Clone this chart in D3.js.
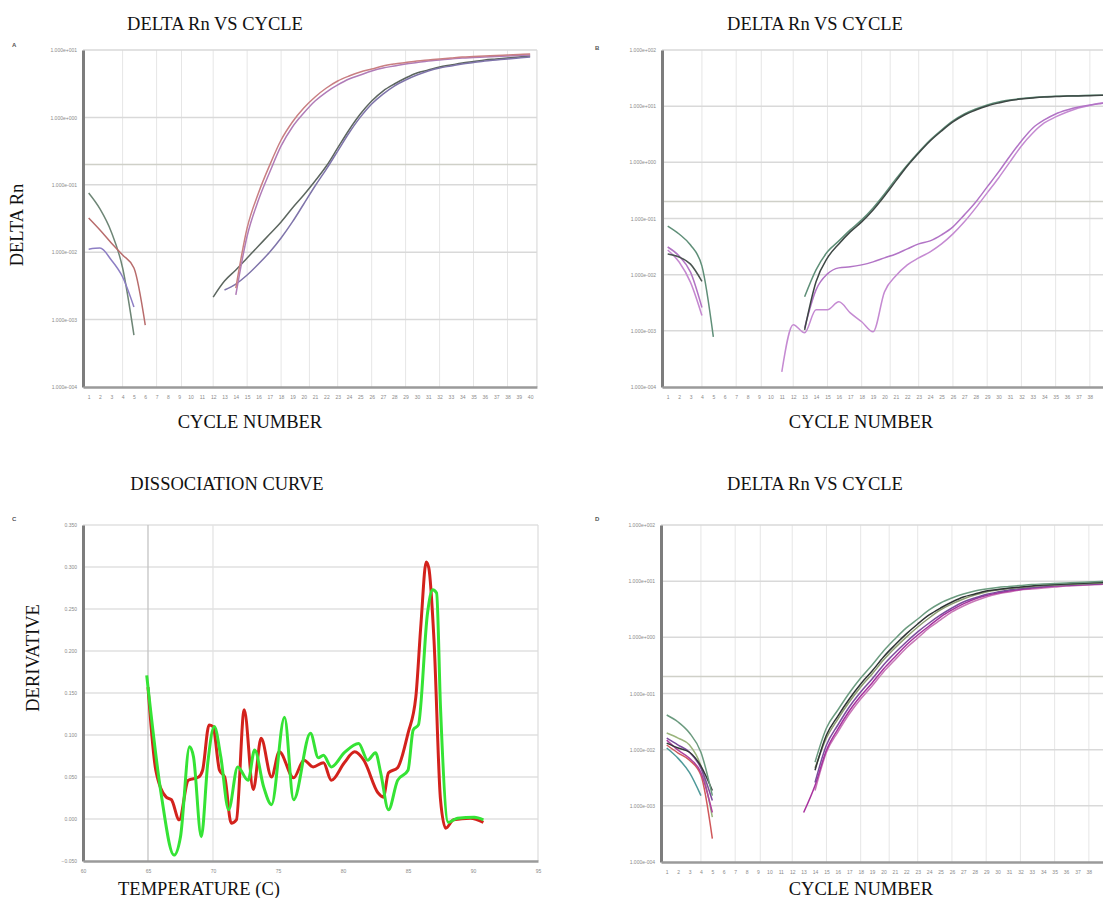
<!DOCTYPE html>
<html>
<head>
<meta charset="utf-8">
<script src="https://cdn.jsdelivr.net/npm/d3@7"></script>
<style>
  body { margin: 0; background: #fff; }
  svg { display: block; }
  .title { font-family: "Liberation Serif", serif; font-size: 18.5px; fill: #111; }
  .tick text { font-family: "Liberation Sans", sans-serif; font-size: 5px; fill: #8a8a8a; }
</style>
</head>
<body>
<svg id="chart" width="1103" height="898"></svg>
<script>
// ---- data ----
var cycleTicks = d3.range(1, 41);
var gridCycles = [4, 7, 9.2, 12, 15, 18, 20.5, 23, 26, 29, 32, 35, 38];
var threshold = 0.2;

var tlTicks = [1e-4, 1e-3, 1e-2, 1e-1, 1e0, 1e1];
var tlTickLabels = ["1.000e-004", "1.000e-003", "1.000e-002", "1.000e-001", "1.000e+000", "1.000e+001"];
var rTicks = [1e-4, 1e-3, 1e-2, 1e-1, 1e0, 1e1, 1e2];
var rTickLabels = ["1.000e-004", "1.000e-003", "1.000e-002", "1.000e-001", "1.000e+000", "1.000e+001", "1.000e+002"];

// panel A
var tlBaseGrey = [0.0755, 0.0438, 0.0200, 0.00583, 0.00059];
var tlBaseRed = [0.0321, 0.0213, 0.0137, 0.00908, 0.00583, 0.00083];
var tlBasePurple = [0.0111, 0.0115, 0.00766, 0.00429, 0.00154];
var tlAmpRed = [0.00294, 0.0229, 0.0755, 0.197, 0.462, 0.855, 1.38, 2.01, 2.73, 3.47, 4.11, 4.72, 5.22, 5.79, 6.20, 6.53, 6.87, 7.11, 7.35, 7.61, 7.87, 8.01, 8.15, 8.29, 8.43, 8.58, 8.72];
var tlAmpPurple = [0.00232, 0.0174, 0.0594, 0.155, 0.377, 0.721, 1.16, 1.75, 2.38, 3.03, 3.71, 4.26, 4.88, 5.41, 5.79, 6.20, 6.53, 6.87, 7.11, 7.35, 7.61, 7.74, 7.87, 8.01, 8.15, 8.29, 8.43];
var tlAmpGrey = [0.00216, 0.00374, 0.00544, 0.0082, 0.01236, 0.01862, 0.0281, 0.0453, 0.0706, 0.114, 0.19, 0.352, 0.65, 1.12, 1.75, 2.46, 3.13, 3.84, 4.56, 5.05, 5.59, 5.99, 6.41, 6.75, 7.11, 7.35, 7.61, 7.87, 8.15];
var tlAmpViolet = [0.00275, 0.00337, 0.00459, 0.00668, 0.01007, 0.01625, 0.0281, 0.0519, 0.0959, 0.171, 0.317, 0.587, 1.01, 1.58, 2.22, 2.92, 3.59, 4.26, 4.88, 5.41, 5.79, 6.20, 6.53, 6.87, 7.11, 7.35, 7.61, 7.87];

// panel B
var trBaseGreen = [0.0735, 0.0530, 0.0337, 0.0142, 0.00078];
var trBaseDark = [0.0233, 0.0206, 0.0154, 0.0076];
var trBasePurple1 = [0.0311, 0.0215, 0.0111, 0.0026];
var trBasePurple2 = [0.0275, 0.0168, 0.0073, 0.00187];
var trAmpGreen = [0.00403, 0.01217, 0.0255, 0.0399, 0.0627, 0.0944, 0.1545, 0.274, 0.507, 0.899, 1.53, 2.50, 3.77, 5.45, 7.26, 8.91, 10.5, 11.9, 12.9, 13.7, 14.3, 14.7, 15.0, 15.2, 15.4, 15.6, 15.7, 15.8];
var trAmpDark = [0.00104, 0.00745, 0.0199, 0.0353, 0.0578, 0.0871, 0.142, 0.252, 0.467, 0.863, 1.47, 2.40, 3.62, 5.24, 6.97, 8.55, 10.1, 11.4, 12.6, 13.4, 14.0, 14.5, 14.8, 15.1, 15.2, 15.4, 15.6, 15.7];
var trAmpPurpleA = [0.00113, 0.00537, 0.01033, 0.01321, 0.01377, 0.01493, 0.0169, 0.0199, 0.0234, 0.0288, 0.0353, 0.0399, 0.0511, 0.0709, 0.116, 0.197, 0.365, 0.675, 1.30, 2.40, 4.09, 5.68, 7.26, 8.55, 9.68, 10.5, 11.2, 11.9];
var trAmpPurpleB = [0.000186, 0.00128, 0.00092, 0.00237, 0.00237, 0.00328, 0.00209, 0.00145, 0.00096, 0.00494, 0.00953, 0.01493, 0.0199, 0.0255, 0.0353, 0.0532, 0.0871, 0.1545, 0.286, 0.527, 1.02, 1.96, 3.33, 5.02, 6.43, 7.88, 9.29, 10.3, 11.4, 11.9];

// panel D
var brBase1 = [0.0414, 0.0311, 0.0198, 0.0090, 0.00152];
var brBase2 = [0.0198, 0.0161, 0.0121, 0.0051, 0.00063];
var brBase3 = [0.0161, 0.0121, 0.0090, 0.0047, 0.00124];
var brBase4 = [0.0131, 0.0107, 0.0090, 0.0051, 0.00187];
var brBase5 = [0.0121, 0.0087, 0.0065, 0.0035, 0.00026];
var brBase6 = [0.0107, 0.0070, 0.0039, 0.00152];
var brBase7 = [0.0148, 0.0098, 0.0070, 0.0039, 0.00076];
var brAmpGreen = [0.0060, 0.0243, 0.0508, 0.102, 0.189, 0.322, 0.571, 0.934, 1.47, 2.12, 3.07, 4.09, 5.02, 5.92, 6.69, 7.26, 7.72, 8.04, 8.38, 8.73, 8.91, 9.09, 9.29, 9.48, 9.67, 9.88, 10.08];
var brAmpDark = [0.0043, 0.0182, 0.0397, 0.0798, 0.148, 0.251, 0.447, 0.730, 1.15, 1.73, 2.50, 3.33, 4.26, 5.23, 5.92, 6.69, 7.11, 7.56, 7.88, 8.21, 8.56, 8.73, 8.91, 9.09, 9.29, 9.48, 9.67];
var brAmpOlive = [0.0047, 0.0161, 0.0351, 0.0705, 0.131, 0.222, 0.395, 0.646, 1.01, 1.53, 2.21, 3.07, 3.93, 4.82, 5.68, 6.42, 6.97, 7.41, 7.72, 8.04, 8.38, 8.56, 8.73, 8.91, 9.09, 9.29, 9.48];
var brAmpPurple = [0.0026, 0.0121, 0.0275, 0.0575, 0.106, 0.181, 0.322, 0.526, 0.826, 1.25, 1.80, 2.50, 3.33, 4.26, 5.02, 5.80, 6.42, 6.97, 7.41, 7.72, 8.04, 8.38, 8.56, 8.73, 8.91, 9.09, 9.29];
var brAmpMagenta = [0.00076, 0.0023, 0.0098, 0.0233, 0.0488, 0.090, 0.154, 0.273, 0.447, 0.730, 1.10, 1.59, 2.30, 3.07, 3.93, 4.82, 5.56, 6.16, 6.69, 7.11, 7.56, 7.88, 8.21, 8.38, 8.56, 8.73, 8.91, 9.09];
var brAmpPink = [0.00187, 0.0090, 0.0206, 0.0431, 0.0798, 0.136, 0.241, 0.395, 0.646, 0.973, 1.47, 2.04, 2.83, 3.62, 4.44, 5.23, 5.92, 6.42, 6.97, 7.26, 7.56, 7.88, 8.21, 8.38, 8.56, 8.73, 8.91];

// panel C (dissociation)
var tempTicks = [60, 65, 70, 75, 80, 85, 90, 95];
var derivTicks = [-0.05, 0, 0.05, 0.1, 0.15, 0.2, 0.25, 0.3, 0.35];
var meltTempRed = [65.0, 65.6, 66.4, 66.8, 67.4, 68.1, 68.9, 69.2, 69.7, 70.0, 70.5, 70.9, 71.4, 71.8, 72.4, 73.1, 73.7, 74.5, 75.1, 76.2, 77.0, 77.7, 78.5, 79.1, 80.1, 80.9, 81.6, 82.7, 83.1, 83.5, 84.2, 85.0, 85.6, 86.0, 86.4, 86.6, 87.0, 87.5, 87.9, 88.5, 89.8, 90.8];
var derivRed = [0.157, 0.058, 0.026, 0.023, -0.001, 0.046, 0.050, 0.058, 0.112, 0.110, 0.058, 0.050, -0.005, -0.001, 0.130, 0.035, 0.096, 0.050, 0.080, 0.049, 0.070, 0.062, 0.067, 0.046, 0.067, 0.080, 0.070, 0.031, 0.026, 0.055, 0.061, 0.102, 0.145, 0.233, 0.306, 0.299, 0.213, 0.023, -0.011, -0.001, 0.001, -0.004];
var meltTempGreen = [64.9, 66.0, 67.0, 67.5, 68.2, 68.5, 69.1, 69.6, 70.1, 70.6, 71.2, 71.9, 72.7, 73.2, 73.9, 74.5, 75.5, 76.2, 77.5, 78.1, 78.5, 79.1, 80.1, 81.2, 81.9, 82.5, 82.9, 83.5, 84.2, 85.0, 85.4, 85.8, 86.5, 86.9, 87.2, 87.5, 88.1, 88.8, 90.1, 90.8];
var derivGreen = [0.171, 0.031, -0.043, -0.021, 0.086, 0.074, -0.021, 0.067, 0.110, 0.074, 0.011, 0.062, 0.046, 0.082, 0.038, 0.017, 0.121, 0.023, 0.102, 0.073, 0.076, 0.062, 0.079, 0.090, 0.070, 0.079, 0.055, 0.011, 0.046, 0.058, 0.106, 0.112, 0.245, 0.273, 0.269, 0.133, -0.004, 0.001, 0.002, -0.001];

var svg = d3.select("#chart");
var pageWidth = 1103;

function toPoints(values, start) {
    return values.map(function(v, i) { return [start + i, v]; });
}

// qPCR amplification plot on a log axis
function drawAmp(o) {
    var x = d3.scaleLinear().domain([0.5, 40.6]).range([o.left, o.left + 40.1 * o.step]);
    var y = d3.scaleLog().domain([o.ticks[0], o.ticks[o.ticks.length - 1]]).range([o.bottom, o.top]);
    var g = svg.append("g");

    g.selectAll(".vgrid").data(gridCycles).enter().append("line")
        .attr("x1", function(d) { return x(d); })
        .attr("x2", function(d) { return x(d); })
        .attr("y1", o.top).attr("y2", o.bottom)
        .attr("stroke", "#e6e6e6").attr("stroke-width", 1);
    g.append("line")
        .attr("x1", x(40.6)).attr("x2", x(40.6)).attr("y1", o.top).attr("y2", o.bottom)
        .attr("stroke", "#dcdcdc").attr("stroke-width", 1.2);

    g.selectAll(".hgrid").data(o.ticks.slice(1)).enter().append("line")
        .attr("x1", o.left).attr("x2", x(40.6))
        .attr("y1", function(d) { return y(d); })
        .attr("y2", function(d) { return y(d); })
        .attr("stroke", "#d9d9d9").attr("stroke-width", 1.5);

    g.append("line")
        .attr("x1", o.left).attr("x2", x(40.6))
        .attr("y1", y(threshold)).attr("y2", y(threshold))
        .attr("stroke", "#cfd0c8").attr("stroke-width", 1.5);

    var line = d3.line()
        .x(function(d) { return x(d[0]); })
        .y(function(d) { return y(d[1]); })
        .curve(d3.curveMonotoneX);

    o.series.forEach(function(s) {
        g.append("path")
            .datum(toPoints(s.values, s.start))
            .attr("d", line)
            .attr("fill", "none")
            .attr("stroke", s.color)
            .attr("stroke-width", 1.5)
            .attr("stroke-linejoin", "round");
    });

    var yAxis = g.append("g")
        .attr("transform", "translate(" + o.left + ",0)")
        .call(d3.axisLeft(y).tickValues(o.ticks)
            .tickFormat(function(d, i) { return o.labels[i]; })
            .tickSize(0).tickPadding(6));
    yAxis.select(".domain").attr("stroke", "#7d7d7d").attr("stroke-width", 3);

    // labels that would fall off the page edge are left out
    var shown = cycleTicks.filter(function(c) { return x(c) + 5 < pageWidth; });
    var xAxis = g.append("g")
        .attr("transform", "translate(0," + o.bottom + ")")
        .call(d3.axisBottom(x).tickValues(shown).tickSize(0).tickPadding(8));
    xAxis.select(".domain").attr("stroke", "#9a9a9a").attr("stroke-width", 2.5);
}

function drawMelt(o) {
    var x = d3.scaleLinear().domain([60, 95]).range([o.left, o.right]);
    var y = d3.scaleLinear().domain([-0.05, 0.35]).range([o.bottom, o.top]);
    var g = svg.append("g");

    g.selectAll(".hgrid").data(derivTicks.slice(1)).enter().append("line")
        .attr("x1", o.left).attr("x2", o.right)
        .attr("y1", function(d) { return y(d); })
        .attr("y2", function(d) { return y(d); })
        .attr("stroke", "#e0e0e0").attr("stroke-width", 1.5);

    g.append("line").attr("x1", x(65)).attr("x2", x(65)).attr("y1", o.top).attr("y2", o.bottom)
        .attr("stroke", "#c4c4c4").attr("stroke-width", 1.3);
    g.append("line").attr("x1", x(70)).attr("x2", x(70)).attr("y1", o.top).attr("y2", o.bottom)
        .attr("stroke", "#e2e2e2").attr("stroke-width", 1.2);
    g.append("line").attr("x1", x(95)).attr("x2", x(95)).attr("y1", o.top).attr("y2", o.bottom)
        .attr("stroke", "#dcdcdc").attr("stroke-width", 1.2);

    var line = d3.line()
        .x(function(d) { return x(d[0]); })
        .y(function(d) { return y(d[1]); })
        .curve(d3.curveMonotoneX);

    g.append("path")
        .datum(meltTempRed.map(function(t, i) { return [t, derivRed[i]]; }))
        .attr("d", line).attr("fill", "none")
        .attr("stroke", "#d3221c").attr("stroke-width", 3).attr("stroke-linejoin", "round");
    g.append("path")
        .datum(meltTempGreen.map(function(t, i) { return [t, derivGreen[i]]; }))
        .attr("d", line).attr("fill", "none")
        .attr("stroke", "#35e335").attr("stroke-width", 3).attr("stroke-linejoin", "round");

    var yAxis = g.append("g")
        .attr("transform", "translate(" + o.left + ",0)")
        .call(d3.axisLeft(y).tickValues(derivTicks).tickFormat(d3.format(".3f")).tickSize(0).tickPadding(6));
    yAxis.select(".domain").attr("stroke", "#7d7d7d").attr("stroke-width", 3);

    var xAxis = g.append("g")
        .attr("transform", "translate(0," + o.bottom + ")")
        .call(d3.axisBottom(x).tickValues(tempTicks).tickSize(0).tickPadding(8));
    xAxis.select(".domain").attr("stroke", "#9a9a9a").attr("stroke-width", 2.5);
}

drawAmp({
    left: 83, step: 11.32, top: 50, bottom: 387,
    ticks: tlTicks, labels: tlTickLabels,
    series: [
        {values: tlBaseGrey, start: 1, color: "#6e8676"},
        {values: tlBaseRed, start: 1, color: "#b86c6c"},
        {values: tlBasePurple, start: 1, color: "#8d7ec4"},
        {values: tlAmpGrey, start: 12, color: "#5c665f"},
        {values: tlAmpViolet, start: 13, color: "#7f74aa"},
        {values: tlAmpPurple, start: 14, color: "#b07cb8"},
        {values: tlAmpRed, start: 14, color: "#c97f82"}
    ]
});

drawAmp({
    left: 662, step: 11.41, top: 50, bottom: 387,
    ticks: rTicks, labels: rTickLabels,
    series: [
        {values: trBasePurple1, start: 1, color: "#b274c4"},
        {values: trBasePurple2, start: 1, color: "#c588d0"},
        {values: trBaseDark, start: 1, color: "#4a5450"},
        {values: trBaseGreen, start: 1, color: "#5f8f78"},
        {values: trAmpPurpleB, start: 11, color: "#c58ad2"},
        {values: trAmpPurpleA, start: 13, color: "#b274c6"},
        {values: trAmpGreen, start: 13, color: "#5f8f78"},
        {values: trAmpDark, start: 13, color: "#3d4744"}
    ]
});

drawMelt({left: 83, right: 538, top: 525, bottom: 861});

drawAmp({
    left: 661, step: 11.41, top: 525, bottom: 862,
    ticks: rTicks, labels: rTickLabels,
    series: [
        {values: brBase5, start: 1, color: "#d0585a"},
        {values: brBase6, start: 1, color: "#4f9a9a"},
        {values: brBase2, start: 1, color: "#9ab47c"},
        {values: brBase7, start: 1, color: "#b0409e"},
        {values: brBase3, start: 1, color: "#7d4c9c"},
        {values: brBase4, start: 1, color: "#353a3a"},
        {values: brBase1, start: 1, color: "#6a9a7e"},
        {values: brAmpPink, start: 14, color: "#c777b6"},
        {values: brAmpMagenta, start: 13, color: "#a8329e"},
        {values: brAmpPurple, start: 14, color: "#7b4c9c"},
        {values: brAmpOlive, start: 14, color: "#8d9d72"},
        {values: brAmpDark, start: 14, color: "#2f3535"},
        {values: brAmpGreen, start: 14, color: "#6c9c80"}
    ]
});

// titles and axis names
var labels = [
    {t: "DELTA Rn VS CYCLE", x: 215, y: 30},
    {t: "DELTA Rn VS CYCLE", x: 815, y: 30},
    {t: "CYCLE NUMBER", x: 250, y: 428},
    {t: "CYCLE NUMBER", x: 861, y: 428},
    {t: "DISSOCIATION CURVE", x: 227, y: 490},
    {t: "DELTA Rn VS CYCLE", x: 815, y: 490},
    {t: "TEMPERATURE (C)", x: 199, y: 895},
    {t: "CYCLE NUMBER", x: 861, y: 895}
];
svg.selectAll(".title").data(labels).enter().append("text")
    .attr("class", "title")
    .attr("x", function(d) { return d.x; })
    .attr("y", function(d) { return d.y; })
    .attr("text-anchor", "middle")
    .text(function(d) { return d.t; });

svg.append("text").attr("class", "title")
    .attr("transform", "translate(23,225) rotate(-90)")
    .attr("text-anchor", "middle").text("DELTA Rn");
svg.append("text").attr("class", "title")
    .attr("transform", "translate(39,658) rotate(-90)")
    .attr("text-anchor", "middle").text("DERIVATIVE");

var letters = [
    {t: "A", x: 12, y: 47},
    {t: "B", x: 595, y: 50},
    {t: "C", x: 12, y: 521},
    {t: "D", x: 595, y: 521}
];
svg.selectAll(".letter").data(letters).enter().append("text")
    .attr("x", function(d) { return d.x; })
    .attr("y", function(d) { return d.y; })
    .attr("font-family", "Liberation Sans, sans-serif")
    .attr("font-size", 6).attr("font-weight", "bold").attr("fill", "#555")
    .text(function(d) { return d.t; });
</script>
</body>
</html>
